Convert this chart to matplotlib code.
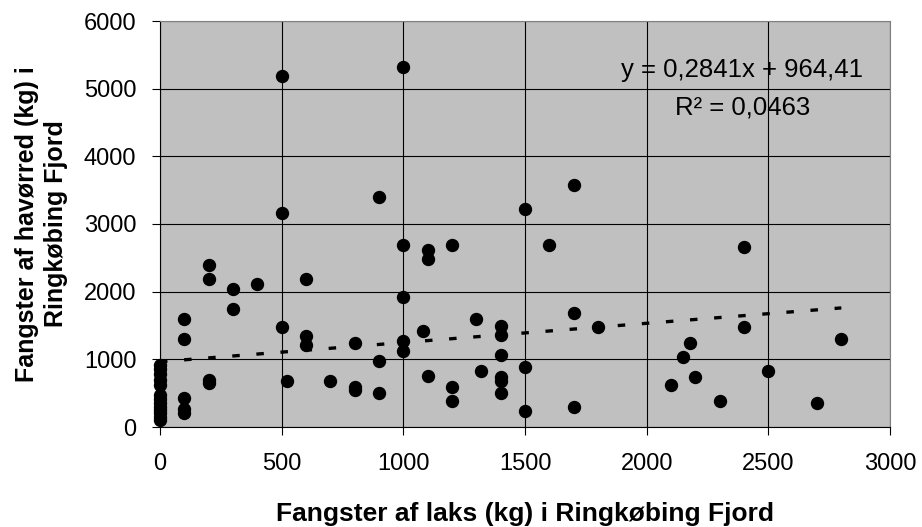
import matplotlib
matplotlib.use("Agg")
import matplotlib.pyplot as plt

# Catches of salmon (x) and sea trout (y) in Ringkøbing Fjord, kg
laks = [0, 0, 0, 0, 0, 0, 0, 0, 0, 0, 0, 0, 0,
        100, 100, 100, 100, 100,
        200, 200, 200, 200,
        300, 300,
        400,
        500, 500, 500,
        520,
        600, 600, 600,
        700,
        800, 800, 800,
        900, 900, 900,
        1000, 1000, 1000, 1000, 1000,
        1080,
        1100, 1100, 1100,
        1200, 1200, 1200,
        1300,
        1320,
        1400, 1400, 1400, 1400, 1400, 1400,
        1500, 1500, 1500,
        1600,
        1700, 1700, 1700,
        1800,
        2100, 2150, 2180, 2200, 2300,
        2400, 2400,
        2500, 2700, 2800]
havoerred = [920, 850, 780, 700, 620, 480, 420, 350, 300, 250, 200, 150, 110,
             1600, 1300, 430, 270, 200,
             2390, 2190, 700, 650,
             2040, 1740,
             2120,
             5180, 3160, 1480,
             675,
             2190, 1340, 1210,
             675,
             1240, 590, 540,
             3400, 975, 500,
             5320, 2690, 1920, 1270, 1120,
             1420,
             2610, 2480, 760,
             2690, 590, 385,
             1600,
             830,
             1490, 1355, 1060, 740, 680, 500,
             3220, 890, 240,
             2690,
             3580, 1690, 300,
             1480,
             620, 1035, 1240, 735, 385,
             2660, 1480,
             830, 355, 1300]

# Linear trendline as reported on the chart
slope = 0.2841
intercept = 964.41
eq_text = "y = 0,2841x + 964,41"
r2_text = "R² = 0,0463"

xticks = [0, 500, 1000, 1500, 2000, 2500, 3000]
yticks = [0, 1000, 2000, 3000, 4000, 5000, 6000]

plt.rcParams['font.family'] = ['Liberation Sans', 'DejaVu Sans']

fig = plt.figure(figsize=(9.22, 5.27), dpi=100)
ax = fig.add_axes([160 / 922, 1 - 427 / 527, 730 / 922, 406 / 527])
ax.set_facecolor('#c0c0c0')

# grid
ax.set_axisbelow(True)
ax.grid(True, color='black', linewidth=0.8)

# trendline over the data range
x0, x1 = min(laks), max(laks)
ax.plot([x0, x1], [slope * x0 + intercept, slope * x1 + intercept],
        color='black', linewidth=2.4, linestyle=(0, (2.25, 5)), zorder=3)

# points
ax.plot(laks, havoerred, linestyle='none', marker='o', markersize=8.6,
        color='black', clip_on=False, zorder=4)

ax.set_xlim(0, 3000)
ax.set_ylim(0, 6000)
ax.set_xticks(xticks)
ax.set_yticks(yticks)
ax.tick_params(direction='out', length=6, width=0.8, colors='black',
               labelsize=17)
ax.tick_params(axis='y', pad=11)
ax.tick_params(axis='x', pad=13)

for side in ['top', 'right']:
    ax.spines[side].set_color('#808080')
for side in ['left', 'bottom']:
    ax.spines[side].set_color('black')

ax.set_xlabel("Fangster af laks (kg) i Ringkøbing Fjord", fontsize=19,
              fontweight='bold', labelpad=19)
ax.set_ylabel("Fangster af havørred (kg) i\nRingkøbing Fjord", fontsize=18,
              fontweight='bold', labelpad=11, linespacing=1.3)

# equation label
ax.text(2390, 5270, eq_text, ha='center', va='center', fontsize=18.5)
ax.text(2395, 4720, r2_text, ha='center', va='center', fontsize=18.5)

plt.savefig("out.png", dpi=100)
